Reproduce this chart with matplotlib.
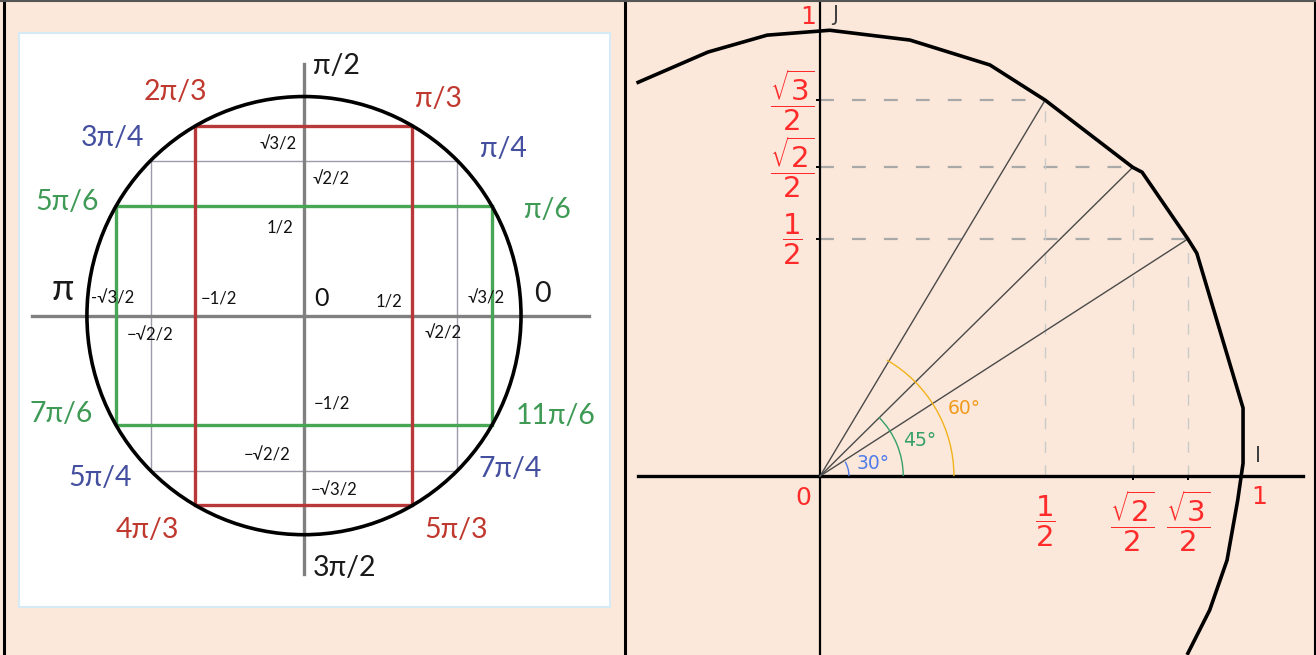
import matplotlib.pyplot as plt
import numpy as np
from matplotlib.lines import Line2D
from matplotlib.patches import Rectangle, Circle, Arc

plt.rcParams['lines.scale_dashes'] = False
plt.rcParams['mathtext.fontset'] = 'dejavusans'

W, H = 1316, 655
peach = '#FBE8DA'
cols = {'k': '#1A1A1A', 'r': '#C0392F', 'b': '#44509F', 'g': '#3E9A55'}

# ---- left panel data (unit circle, special angles)
half, root2, root3 = 0.5, 0.707, 0.866
axis_h = [-1.254, 1.315]
axis_v = [-1.179, 1.147]

big_labels = ['π/2', '2π/3', 'π/3', '3π/4', 'π/4', '5π/6', 'π/6', 'π', '0',
              '7π/6', '11π/6', '5π/4', '7π/4', '4π/3', '5π/3', '3π/2']
big_x = [0.04, -0.59, 0.62, -0.88, 0.92, -1.09, 1.12, -1.11, 1.10,
         -1.12, 1.16, -0.94, 0.95, -0.72, 0.70, 0.04]
big_y = [1.14, 1.02, 0.99, 0.81, 0.76, 0.52, 0.48, 0.12, 0.10,
         -0.45, -0.46, -0.74, -0.70, -0.98, -0.98, -1.15]
big_col = ['k', 'r', 'r', 'b', 'b', 'g', 'g', 'k', 'k',
           'g', 'g', 'b', 'b', 'r', 'r', 'k']

small_labels = ['√3/2', '√2/2', '1/2', '-√3/2', '−1/2', '1/2', '√3/2',
                '−√2/2', '√2/2', '−1/2', '−√2/2', '−√3/2']
small_x = [-0.12, 0.125, -0.11, -0.88, -0.39, 0.39, 0.84,
           -0.71, 0.64, 0.13, -0.17, 0.14]
small_y = [0.78, 0.62, 0.40, 0.08, 0.08, 0.065, 0.08,
           -0.09, -0.08, -0.40, -0.64, -0.80]

# ---- right panel data (first quadrant drawing)
circ_x = [-0.409, -0.252, -0.119, 0.022, 0.202, 0.382, 0.506, 0.703, 0.724,
          0.827, 0.847, 0.951, 0.951, 0.939, 0.915, 0.876, 0.827]
circ_y = [0.885, 0.953, 0.991, 1.002, 0.980, 0.924, 0.845, 0.694, 0.683,
          0.533, 0.501, 0.153, 0.029, -0.054, -0.189, -0.301, -0.398]
pt_x = [0.827, 0.703, 0.506]   # 30, 45, 60 deg
pt_y = [0.533, 0.694, 0.845]
frac_y = [r'$\dfrac{1}{2}$', r'$\dfrac{\sqrt{2}}{2}$', r'$\dfrac{\sqrt{3}}{2}$']
frac_x = [r'$\dfrac{\sqrt{3}}{2}$', r'$\dfrac{\sqrt{2}}{2}$', r'$\dfrac{1}{2}$']
arc_deg = [30, 45, 60]
arc_r = [0.065, 0.187, 0.301]
arc_col = ['#4F7BEA', '#35A06A', '#F2B21C']
arc_txt = ['30°', '45°', '60°']
arc_txt_col = ['#4F7BEA', '#35A06A', '#F29A1C']
arc_txt_x = [0.083, 0.187, 0.288]
arc_txt_y = [0.029, 0.079, 0.151]

fig = plt.figure(figsize=(W / 100, H / 100), dpi=100)
fig.patch.set_facecolor(peach)

# ================= left panel =================
ax1 = fig.add_axes([19 / W, (H - 607) / H, 591 / W, 574 / H])
ax1.set_xlim(-1.313, 1.410)
ax1.set_ylim(-1.330, 1.290)
ax1.set_facecolor('white')
ax1.set_xticks([])
ax1.set_yticks([])
for s in ax1.spines.values():
    s.set_color('#D6EAF6')
    s.set_linewidth(1.5)

ax1.plot(axis_h, [0, 0], color='#808080', lw=2.4, zorder=2)
ax1.plot([0, 0], axis_v, color='#808080', lw=2.4, zorder=2)
ax1.add_patch(Rectangle((-root2, -root2), 2 * root2, 2 * root2, fill=False,
                        ec='#9C9CAC', lw=1.0, zorder=1))
ax1.add_patch(Rectangle((-root3, -half), 2 * root3, 2 * half, fill=False,
                        ec='#47A556', lw=2.4, zorder=3))
ax1.add_patch(Rectangle((-half, -root3), 2 * half, 2 * root3, fill=False,
                        ec='#B8383A', lw=2.4, zorder=3))
ax1.add_patch(Circle((0, 0), 1.0, fill=False, ec='black', lw=2.6, zorder=4))

lfont = ['Lato', 'DejaVu Sans']
for t, x, y, c in zip(big_labels, big_x, big_y, big_col):
    ha = 'left' if t in ('π/2', '3π/2') else 'center'
    fs = 26 if t == 'π' else 20.5
    ax1.text(x, y, t, color=cols[c], fontsize=fs, ha=ha, va='center',
             family=lfont, zorder=5)
for t, x, y in zip(small_labels, small_x, small_y):
    ax1.text(x, y, t, color='#111111', fontsize=12, ha='center', va='center',
             family=lfont, zorder=5)
ax1.text(0.08, 0.08, '0', color='#111111', fontsize=18, ha='center',
         va='center', family=lfont, zorder=5)

# ================= right panel =================
ax2 = fig.add_axes([627 / W, 0, (W - 627) / W, 1])
ax2.set_xlim(-0.434, 1.115)
ax2.set_ylim(-0.402, 1.070)
ax2.set_facecolor(peach)
for k in ('top', 'right'):
    ax2.spines[k].set_visible(False)
ax2.spines['left'].set_position(('data', 0))
ax2.spines['bottom'].set_position(('data', 0))
ax2.spines['bottom'].set_bounds(-0.409, 1.085)
ax2.spines['left'].set_linewidth(1.6)
ax2.spines['bottom'].set_linewidth(2.4)
ax2.set_xticks(pt_x[:2])
ax2.set_yticks(pt_y)
ax2.tick_params(direction='out', length=3, width=1.4, labelbottom=False,
                labelleft=False)

ax2.plot(circ_x, circ_y, color='black', lw=2.6, solid_joinstyle='miter',
         zorder=4)
for x, y in zip(pt_x, pt_y):
    ax2.plot([0, x], [0, y], color='#4A4A4A', lw=1.0, zorder=3)
    ax2.plot([0, x], [y, y], color='#A9A9A9', lw=1.6, dashes=(10, 13),
             zorder=2)
    ax2.plot([x, x], [0, y], color='#CACACA', lw=1.0, dashes=(8, 9), zorder=2)

for d, r, c in zip(arc_deg, arc_r, arc_col):
    ax2.add_patch(Arc((0, 0), 2 * r, 2 * r, theta1=0, theta2=d, color=c,
                      lw=1.0, zorder=3))
for t, x, y, c in zip(arc_txt, arc_txt_x, arc_txt_y, arc_txt_col):
    ax2.text(x, y, t, color=c, fontsize=13.5, ha='left', va='center')

red = '#FF2B2B'
for t, y in zip(frac_y, pt_y):
    ax2.text(-0.062, y, t, color=red, fontsize=21, ha='center', va='center')
for t, x in zip(frac_x, pt_x):
    ax2.text(x, -0.101, t, color=red, fontsize=21, ha='center', va='center')
ax2.text(-0.027, 1.031, '1', color=red, fontsize=18, ha='center', va='center')
ax2.text(0.034, 1.036, 'J', color='#404040', fontsize=15, ha='center',
         va='center')
ax2.text(-0.038, -0.049, '0', color=red, fontsize=18, ha='center', va='center')
ax2.text(0.987, -0.047, '1', color=red, fontsize=18, ha='center', va='center')
ax2.text(0.984, 0.045, 'I', color='#404040', fontsize=15, ha='center',
         va='center')

# ---- frame lines
for xs, ys, c, lw in [([4 / W, 4 / W], [0, 1], 'black', 2.2),
                      ([625 / W, 625 / W], [0, 1], 'black', 2.2),
                      ([1314.5 / W, 1314.5 / W], [0, 1], 'black', 1.5),
                      ([0, 1], [1 - 1.2 / H, 1 - 1.2 / H], '#555555', 1.5)]:
    fig.add_artist(Line2D(xs, ys, color=c, lw=lw, transform=fig.transFigure))

fig.savefig('out.png', dpi=100, facecolor=fig.get_facecolor())
